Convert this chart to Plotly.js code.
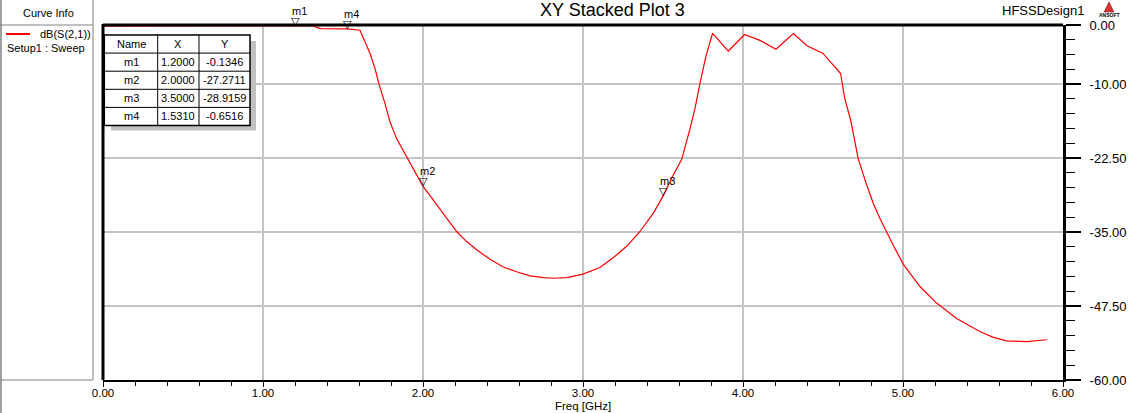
<!DOCTYPE html>
<html>
<head>
<meta charset="utf-8">
<script src="https://cdn.plot.ly/plotly-3.0.1.min.js"></script>
<style>html,body{margin:0;padding:0;background:#fff;}#plot{width:1132px;height:413px;}</style>
</head>
<body>
<div id="plot"></div>
<script>
// ---- data ----
var freqGHz = [0, 0.3, 0.6, 0.9, 1.1, 1.2, 1.31, 1.36, 1.531, 1.606, 1.6375, 1.669, 1.7, 1.725, 1.7625, 1.794, 1.835, 1.908, 1.96, 2.0, 2.065, 2.127, 2.21, 2.273, 2.335, 2.419, 2.502, 2.585, 2.669, 2.752, 2.815, 2.898, 3.0, 3.106, 3.19, 3.273, 3.356, 3.44, 3.5, 3.565, 3.617, 3.669, 3.7, 3.73, 3.77, 3.81, 3.908, 4.01, 4.106, 4.206, 4.315, 4.40, 4.50, 4.61, 4.636, 4.673, 4.72, 4.77, 4.815, 4.856, 4.898, 4.95, 5.006, 5.106, 5.21, 5.335, 5.48, 5.565, 5.648, 5.773, 5.898];
var s21dB = [-0.2, -0.2, -0.18, -0.15, -0.13, -0.1346, -0.15, -0.6, -0.6516, -0.88, -2.85, -4.8, -7.35, -10, -13.3, -16.4, -19.2, -22.7, -25.1, -27.27, -29.6, -31.8, -34.9, -36.6, -38.0, -39.6, -40.9, -41.7, -42.4, -42.7, -42.8, -42.7, -42.1, -41.0, -39.3, -37.4, -34.9, -31.8, -28.92, -25.3, -22.7, -17.5, -14.1, -10, -5.1, -1.4, -4.4, -1.6, -2.6, -4.1, -1.44, -3.5, -4.8, -8.2, -12.4, -16.1, -22.6, -26.8, -30.2, -32.7, -35.1, -37.8, -40.6, -44.2, -47.0, -49.6, -51.8, -52.8, -53.4, -53.5, -53.2];
var markerNames = ["m1", "m2", "m3", "m4"];
var markerX = [1.2, 2.0, 3.5, 1.531];
var markerY = [-0.1346, -27.2711, -28.9159, -0.6516];
var yTickVals = [0, -10, -22.5, -35, -47.5, -60];
var xTickVals = [0, 1, 2, 3, 4, 5, 6];
var traceName = "dB(S(2,1))";
var setupName = "Setup1 : Sweep";
var plotTitle = "XY Stacked Plot 3";
var designName = "HFSSDesign1";
var xTitle = "Freq [GHz]";

// ---- layout helpers (pixel -> paper) ----
var W = 1132, H = 413, L = 103, R = 69, T = 25, B = 33;
var PW = W - L - R, PH = H - T - B;
function px(x) { return (x - L) / PW; }
function py(y) { return 1 - (y - T) / PH; }
var FONT = "Arial, 'Liberation Sans', sans-serif";

var shapes = [];
var annotations = [];
function rect(x0, y0, x1, y1, fill, lineColor, lw) {
  shapes.push({type: 'rect', xref: 'paper', yref: 'paper', x0: px(x0), x1: px(x1), y0: py(y0), y1: py(y1),
    fillcolor: fill, line: {color: lineColor, width: lw}, layer: 'above'});
}
function line(x0, y0, x1, y1, color, lw) {
  shapes.push({type: 'line', xref: 'paper', yref: 'paper', x0: px(x0), x1: px(x1), y0: py(y0), y1: py(y1),
    line: {color: color, width: lw}, layer: 'above'});
}
function text(t, x, y, size, anchor, color) {
  annotations.push({text: t, xref: 'paper', yref: 'paper', x: px(x), y: py(y), showarrow: false,
    xanchor: anchor || 'center', yanchor: 'middle', font: {family: FONT, size: size, color: color || '#000'}});
}

// Curve info panel
line(1, 0, 1, H, '#a0a0a0', 2);
line(93, 0, 93, 380, '#808080', 1);
line(0, 25, 93, 25, '#808080', 1);
line(0, 380, 93, 380, '#808080', 1);
text('Curve Info', 48.5, 12.5, 11);
line(6, 34, 30, 34, '#ff0000', 2);
text(traceName, 38, 34.5, 11, 'left');
text(setupName, 5, 47.5, 11, 'left');

// plot borders
line(103, 25, 1063, 25, '#000', 3);
line(103, 24, 103, 380, '#000', 3);

// Titles
text(plotTitle, 612, 10, 18);
text(designName, 1042.5, 10, 13);
text(xTitle, 583, 406.5, 11.5);
// ANSOFT logo
shapes.push({type: 'path', xref: 'paper', yref: 'paper', layer: 'above',
  path: 'M ' + px(1104) + ' ' + py(12) + ' L ' + px(1114) + ' ' + py(12) + ' L ' + px(1109) + ' ' + py(2) + ' Z',
  fillcolor: '#e03030', line: {color: '#600', width: 0.5}});
text('<b>ANSOFT</b>', 1109, 15, 5);

// Marker table
var colX = [104.3, 157.7, 199, 250];
var rowY = [35];
for (var i = 0; i <= markerNames.length; i++) rowY.push(35 + 18.1 * (i + 1));
var tBottom = rowY[rowY.length - 1];
rect(111, 41, 256, tBottom + 5, '#c0c0c0', '#c0c0c0', 0);
rect(colX[0], rowY[0], colX[3], tBottom, '#ffffff', '#000', 1.5);
for (var c = 1; c < 3; c++) line(colX[c], rowY[0], colX[c], tBottom, '#000', 1);
for (var r = 1; r < rowY.length - 1; r++) line(colX[0], rowY[r], colX[3], rowY[r], '#000', 1);
var headers = ['Name', 'X', 'Y'];
function cx(c) { return (colX[c] + colX[c + 1]) / 2; }
function cy(r) { return (rowY[r] + rowY[r + 1]) / 2; }
for (var c2 = 0; c2 < 3; c2++) text(headers[c2], cx(c2), cy(0), 11);
for (var m = 0; m < markerNames.length; m++) {
  text(markerNames[m], cx(0), cy(m + 1), 11);
  text(markerX[m].toFixed(4), cx(1), cy(m + 1), 11);
  text(markerY[m].toFixed(4), cx(2), cy(m + 1), 11);
}

// Marker glyphs on the curve (data coordinates)
for (var k = 0; k < markerNames.length; k++) {
  annotations.push({text: '▽', x: markerX[k], y: markerY[k], xref: 'x', yref: 'y', showarrow: false,
    xanchor: 'center', yanchor: 'bottom', yshift: -4, font: {family: "'DejaVu Sans', sans-serif", size: 11, color: '#000'}});
  annotations.push({text: markerNames[k], x: markerX[k], y: markerY[k], xref: 'x', yref: 'y', showarrow: false,
    xanchor: 'center', yanchor: 'bottom', xshift: 4, yshift: 7, font: {family: FONT, size: 11, color: '#000'}});
}

var trace = {
  x: freqGHz, y: s21dB, type: 'scatter', mode: 'lines', name: traceName,
  line: {color: '#ff0000', width: 1.2}, showlegend: false, hoverinfo: 'x+y'
};

var layout = {
  width: W, height: H,
  margin: {l: L, r: R, t: T, b: B, pad: 0},
  paper_bgcolor: '#fff', plot_bgcolor: '#fff',
  showlegend: false,
  font: {family: FONT, size: 12, color: '#000'},
  xaxis: {
    range: [0, 6], tickmode: 'array', tickvals: xTickVals,
    ticktext: xTickVals.map(function (v) { return v.toFixed(2); }),
    ticks: 'outside', ticklen: 5, tickwidth: 1, tickcolor: '#000',
    showline: true, linecolor: '#000', linewidth: 1.5, mirror: false,
    showgrid: true, gridcolor: '#c4c4c4', gridwidth: 2, zeroline: false,
    tickfont: {family: FONT, size: 11.5, color: '#000'},
    ticklabelstandoff: -3,
    minor: {tickmode: 'linear', tick0: 0, dtick: 0.2, ticks: 'outside', ticklen: 4, tickcolor: '#000', tickwidth: 1, showgrid: false}
  },
  yaxis: {
    range: [-60, 0], side: 'right', tickmode: 'array', tickvals: yTickVals,
    ticktext: yTickVals.map(function (v) { return v.toFixed(2); }),
    ticks: 'outside', ticklen: 15, tickwidth: 2, tickcolor: '#000',
    showline: true, linecolor: '#000', linewidth: 3,
    showgrid: true, gridcolor: '#c4c4c4', gridwidth: 2, zeroline: false,
    tickfont: {family: FONT, size: 13, color: '#000'},
    ticklabelstandoff: 6,
    minor: {tickmode: 'linear', tick0: 0, dtick: 2.5, ticks: 'outside', ticklen: 9, tickcolor: '#000', tickwidth: 1, showgrid: false}
  },
  shapes: shapes,
  annotations: annotations
};

Plotly.newPlot('plot', [trace], layout, {displayModeBar: false, staticPlot: true});
</script>
</body>
</html>
